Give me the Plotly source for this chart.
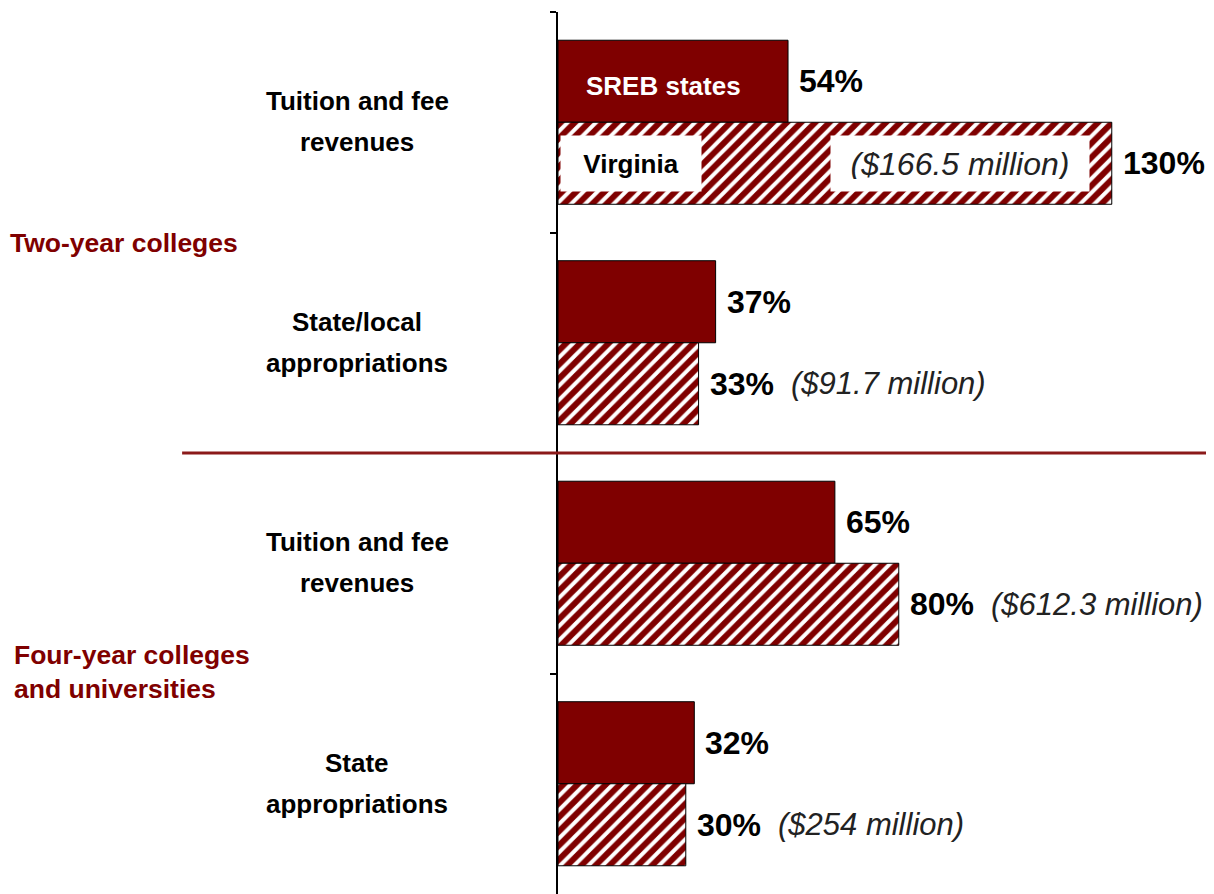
import plotly.graph_objects as go

# data
categories = ["Tuition and fee revenues", "State/local appropriations",
              "Tuition and fee revenues", "State appropriations"]
label_lines = [("Tuition and fee", "revenues"), ("State/local", "appropriations"),
               ("Tuition and fee", "revenues"), ("State", "appropriations")]
sreb_values = [54, 37, 65, 32]
virginia_values = [130, 33, 80, 30]
virginia_dollars = ["($166.5 million)", "($91.7 million)", "($612.3 million)", "($254 million)"]
groups = ["Two-year colleges", "Four-year colleges", "and universities"]

DARK_RED = "#7f0000"
FONT = "Liberation Sans, Arial, sans-serif"

ypos = list(range(len(categories)))

fig = go.Figure()
fig.add_trace(go.Bar(
    y=ypos, x=sreb_values, orientation="h", name="SREB states",
    marker=dict(color=DARK_RED, line=dict(color="black", width=1)),
    hoverinfo="x+name"
))
fig.add_trace(go.Bar(
    y=ypos, x=virginia_values, orientation="h", name="Virginia",
    marker=dict(color="white", line=dict(color="black", width=1),
                pattern=dict(shape="/", fgcolor=DARK_RED, bgcolor="white", fgopacity=1,
                             size=10, solidity=0.6)),
    hoverinfo="x+name"
))

annotations = []
# value labels (percent bold, dollar amounts italic)
for i, (s, v) in enumerate(zip(sreb_values, virginia_values)):
    annotations.append(dict(x=s, y=i - 0.186, xref="x", yref="y", text="<b>%d%%</b>" % s,
                            showarrow=False, xanchor="left", xshift=9,
                            font=dict(size=32, color="black")))
    annotations.append(dict(x=v, y=i + 0.186, xref="x", yref="y", text="<b>%d%%</b>" % v,
                            showarrow=False, xanchor="left", xshift=9,
                            font=dict(size=32, color="black")))
    if i > 0:
        annotations.append(dict(x=v, y=i + 0.186, xref="x", yref="y",
                                text="<i>%s</i>" % virginia_dollars[i],
                                showarrow=False, xanchor="left", xshift=90,
                                font=dict(size=31, color="#222222")))

# category labels, centred left of the axis
for i, (l1, l2) in enumerate(label_lines):
    for j, line in enumerate((l1, l2)):
        annotations.append(dict(x=-0.306, y=i, xref="paper", yref="y", text="<b>%s</b>" % line,
                                showarrow=False, xanchor="center", yshift=21 - 41 * j,
                                font=dict(size=26, color="black")))

# group labels
annotations.append(dict(x=-0.839, y=0.548, xref="paper", yref="y", text="<b>%s</b>" % groups[0],
                        showarrow=False, xanchor="left", font=dict(size=26.5, color=DARK_RED)))
for j, line in enumerate(groups[1:]):
    annotations.append(dict(x=-0.833, y=2.493, xref="paper", yref="y", text="<b>%s</b>" % line,
                            showarrow=False, xanchor="left", yshift=17 - 34 * j,
                            font=dict(size=26.5, color=DARK_RED)))

# legend-like labels inside the first pair of bars
annotations.append(dict(x=0, y=-0.186, xref="x", yref="y", text="<b>SREB states</b>",
                        showarrow=False, xanchor="left", xshift=26, yshift=-5,
                        font=dict(size=26, color="white")))
annotations.append(dict(x=0, y=0.186, xref="x", yref="y", text="<b>Virginia</b>",
                        showarrow=False, xanchor="left", xshift=2, bgcolor="white",
                        width=116, height=31, borderpad=12, align="center",
                        font=dict(size=26, color="black")))
annotations.append(dict(x=0, y=0.186, xref="x", yref="y", text="<i>%s</i>" % virginia_dollars[0],
                        showarrow=False, xanchor="left", xshift=272, bgcolor="white",
                        width=234, height=31, borderpad=12, align="center",
                        font=dict(size=32, color="#222222")))

fig.update_layout(
    width=1206, height=886,
    margin=dict(l=550, r=0, t=4, b=0),
    paper_bgcolor="white", plot_bgcolor="white",
    barmode="group", bargap=0.256, bargroupgap=0,
    showlegend=False,
    font=dict(family=FONT, size=26, color="black"),
    xaxis=dict(range=[0, 154], visible=False, fixedrange=True),
    yaxis=dict(range=[3.5, -0.5], tickmode="array", tickvals=[-0.5, 0.5, 1.5, 2.5],
               ticktext=["", "", "", ""], ticks="outside", ticklen=6, tickwidth=1.5,
               tickcolor="black", showline=True, linecolor="black", linewidth=1.5,
               showgrid=False, zeroline=False, fixedrange=True),
    annotations=annotations,
    shapes=[dict(type="line", xref="paper", yref="y", x0=-0.573, x1=1.01, y0=1.5, y1=1.5,
                 line=dict(color="#8b1a1a", width=3))],
)

fig.write_html("out.html")
